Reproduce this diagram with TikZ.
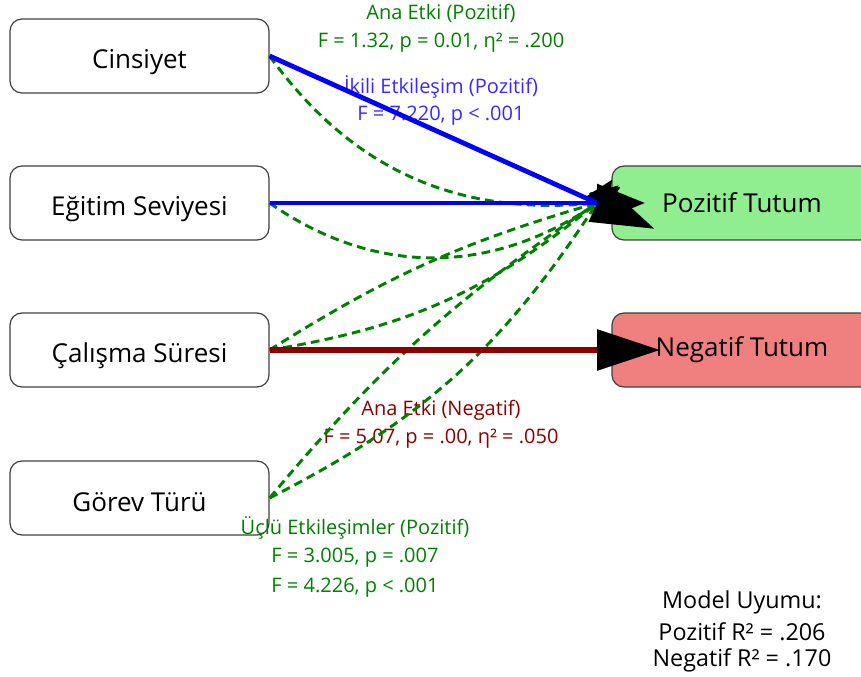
\documentclass[tikz,border=0pt]{standalone}
\usepackage{fontspec}
\setmainfont{Open Sans}
\usetikzlibrary{arrows.meta}
\definecolor{posgreen}{HTML}{90EE90}
\definecolor{negred}{HTML}{F08080}
\definecolor{dgreen}{RGB}{0,128,0}
\definecolor{dred}{RGB}{139,0,0}
\definecolor{ublue}{RGB}{0,0,255}
\definecolor{lblue}{RGB}{60,40,255}
\begin{document}
\begin{tikzpicture}[x=0.75pt,y=-0.75pt,
  box/.style={draw=black!75, line width=0.9pt, rounded corners=9pt,
    minimum width=194.25pt, minimum height=55.5pt, inner sep=0pt,
    font=\fontsize{19.5}{23}\selectfont},
  lbox/.style={box, fill=white, text height=19.5pt, text depth=0pt},
  rbox/.style={box, minimum width=195pt},
  lab/.style={font=\fontsize{15}{18}\selectfont, inner sep=0pt},
  fit/.style={font=\fontsize{17.5}{21}\selectfont, inner sep=0pt},
  bigtip/.style={-{Triangle[length=47.25pt,width=30pt,color=black]}, shorten >=-47.25pt},
  midtip/.style={-{Triangle[length=36pt,width=28pt,color=black]}, shorten >=-36pt},
  smalltip/.style={-{Triangle[length=21pt,width=18pt,color=black]}, shorten >=-21pt},
  blueline/.style={draw=ublue, line width=3.6pt},
  redline/.style={draw=dred, line width=4.5pt},
  dashline/.style={draw=dgreen, line width=2.2pt, dash pattern=on 6.5pt off 4pt}
]
\useasboundingbox (0,0) rectangle (861,677);

% boxes
\node[lbox] (cin) at (139.5,56) {Cinsiyet};
\node[lbox] (egt) at (139.5,203) {Eğitim Seviyesi};
\node[lbox] (cal) at (139.5,350) {Çalışma Süresi};
\node[lbox] (gor) at (139.5,498) {Görev Türü};
\node[rbox, fill=posgreen] (pos) at (742,203) {Pozitif Tutum};
\node[rbox, fill=negred] (neg) at (742,350) {Negatif Tutum};

\coordinate (pin) at (597,203);
\coordinate (nin) at (597,350);

% labels
\node[lab, text=dgreen] (l1) at (441,13) {Ana Etki (Pozitif)};
\node[lab, text=dgreen] (l2) at (441,43) {F = 1.32, p = 0.01, η² = .200};
\node[lab, text=lblue] (l3) at (441,87) {İkili Etkileşim (Pozitif)};
\node[lab, text=lblue] (l4) at (441,116) {F = 7.220, p < .001};
\node[lab, text=dred] (l5) at (441,410) {Ana Etki (Negatif)};
\node[lab, text=dred] (l6) at (441,439) {F = 5.07, p = .00, η² = .050};
\node[lab, text=dgreen] (l7) at (355,528) {Üçlü Etkileşimler (Pozitif)};
\node[lab, text=dgreen] (l8) at (355,558) {F = 3.005, p = .007};
\node[lab, text=dgreen] (l9) at (355,588) {F = 4.226, p < .001};
\node[fit] (m1) at (742,602) {Model Uyumu:};
\node[fit] (m2) at (742,632) {Pozitif R² = .206};
\node[fit] (m3) at (742,660) {Negatif R² = .170};

% dashed interaction paths
\draw[dashline, smalltip] (cin.east) to[bend right=30] (pin);
\draw[dashline, smalltip] (egt.east) to[bend right=35] (pin);
\draw[dashline, smalltip] (cal.east) to[bend left=8] (pin);
\draw[dashline, smalltip] (cal.east) to[bend right=15] (pin);
\draw[dashline, smalltip] (gor.east) to[bend left=8] (pin);
\draw[dashline, smalltip] (gor.east) to[bend right=15] (pin);

% main effects
\draw[blueline, bigtip] (cin.east) -- (pin);
\draw[blueline, midtip] (egt.east) -- (pin);
\draw[redline, bigtip] (cal.east) -- (nin);
\end{tikzpicture}
\end{document}
